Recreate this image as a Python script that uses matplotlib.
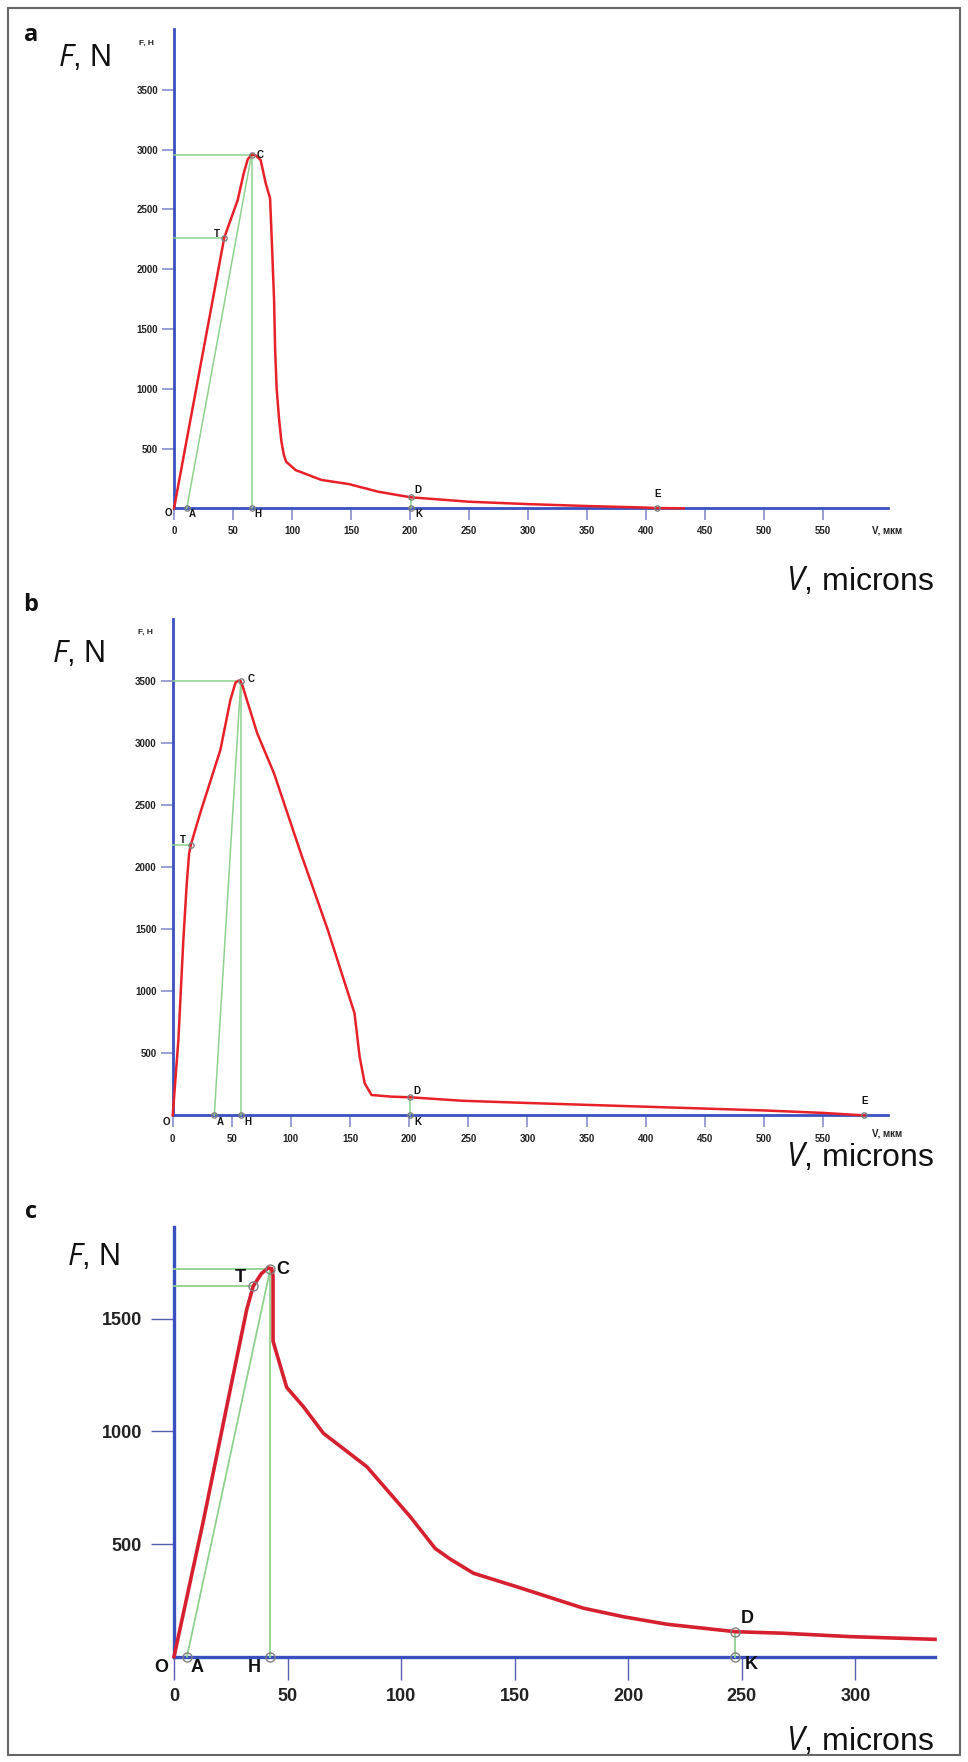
import matplotlib as mpl
mpl.use("Agg")
import matplotlib.pyplot as plt
from matplotlib.patches import Rectangle

plt.rcParams['font.family'] = ['Liberation Sans', 'DejaVu Sans']
plt.rcParams['mathtext.fontset'] = 'custom'
plt.rcParams['mathtext.rm'] = 'Open Sans'
plt.rcParams['mathtext.it'] = 'Open Sans:italic'

W, H = 968, 1762

# ---- panel a ----
a_v = [0, 42.6, 54, 59, 62.5, 65.7, 69.5, 73.4, 77.7, 81.4, 82.6, 84.8, 85.7, 87, 89, 91,
       93, 95, 103, 125, 148, 173, 200.5, 250, 300, 350, 400, 409.5, 432]
a_f = [0, 2265, 2580, 2800, 2920, 2960, 2950, 2914, 2720, 2594, 2304, 1743, 1325, 1000, 750, 560,
       450, 390, 320, 237, 203, 139, 92, 55, 35, 19, 6, 2, 0]
a_names = ['C', 'T', 'A', 'H', 'D', 'K', 'E']
a_pv = [65.7, 42.6, 10.8, 65.7, 200.5, 200.5, 409.5]
a_pf = [2960, 2265, 0, 0, 92, 0, 0]

# ---- panel b ----
b_v = [0, 4.8, 9.0, 11.9, 13.9, 15.3, 23.2, 40.3, 48.8, 53.1, 55.5, 57.3, 59, 71.5, 85.7, 108.4,
       131.2, 153.8, 158.1, 162.4, 168.2, 185.1, 200.7, 244.7, 300, 350, 400, 450, 500, 550, 585]
b_f = [0, 607, 1412, 1869, 2110, 2177, 2432, 2942, 3345, 3484, 3500, 3498, 3460, 3076, 2754, 2110,
       1493, 822, 473, 258, 164, 151, 146, 118, 100, 85, 70, 55, 40, 20, 0]
b_names = ['C', 'T', 'A', 'H', 'D', 'K', 'E']
b_pv = [57.6, 15.3, 35.2, 57.6, 200.7, 200.7, 585]
b_pf = [3500, 2180, 0, 0, 146, 0, 0]

# ---- panel c ----
c_v = [0, 13, 23.2, 32, 34.9, 38.5, 41.5, 43, 43.6, 43.6, 49.6, 57, 65.8, 84.9, 104, 115,
       121.6, 131.9, 151, 180.3, 198, 217, 247, 268.4, 297.8, 335]
c_f = [0, 606, 1109, 1540, 1645, 1700, 1725, 1722, 1690, 1400, 1195, 1109, 991, 843, 621, 480,
       433, 370, 310, 215, 177, 144, 111, 104, 89, 77]
c_names = ['C', 'T', 'A', 'H', 'D', 'K']
c_pv = [42.4, 34.9, 5.7, 42.4, 247, 247]
c_pf = [1720, 1645, 0, 0, 111, 0]

blue = '#3a50c0'
tickc = '#7d85cc'
green = '#8fd18f'

fig = plt.figure(figsize=(W / 100, H / 100), dpi=100)


def px_axes(x0, y0, x1, y1):
    return fig.add_axes([x0 / W, 1 - y1 / H, (x1 - x0) / W, (y1 - y0) / H])


def ftext(x, y, s, **kw):
    fig.text(x / W, 1 - y / H, s, **kw)


def setup(ax, xlim, ylim, xt, yt, lw, tlen, tw, tcol, fs, xpad, ypad):
    ax.set_xlim(*xlim)
    ax.set_ylim(*ylim)
    ax.patch.set_visible(False)
    for s in ['top', 'right']:
        ax.spines[s].set_visible(False)
    for s in ['left', 'bottom']:
        ax.spines[s].set_color(blue)
        ax.spines[s].set_linewidth(lw)
    ax.set_xticks(xt)
    ax.set_yticks(yt)
    ax.tick_params(axis='x', direction='out', length=tlen, width=tw, color=tcol, pad=xpad)
    ax.tick_params(axis='y', direction='out', length=tlen, width=tw, color=tcol, pad=ypad)
    for lab in ax.get_xticklabels() + ax.get_yticklabels():
        lab.set_fontsize(fs)
        lab.set_fontweight('bold')
        lab.set_color('#222222')


def draw(ax, v, f, names, pv, pf, offs, red, rlw, glw, ms, lfs):
    d = dict(zip(names, zip(pv, pf)))
    cv, cf = d['C']
    tv, tf = d['T']
    av, af = d['A']
    dv, df = d['D']
    gk = dict(color=green, lw=glw, clip_on=False, zorder=2.6)
    ax.plot([0, cv], [cf, cf], **gk)
    ax.plot([0, tv], [tf, tf], **gk)
    ax.plot([cv, cv], [0, cf], **gk)
    ax.plot([av, cv], [0, cf], **gk)
    ax.plot([dv, dv], [0, df], **gk)
    ax.plot(v, f, color=red, lw=rlw, clip_on=False, zorder=3, solid_joinstyle='round')
    ax.plot(pv, pf, 'o', ms=ms, mfc='none', mec='#808080', mew=1.0, clip_on=False, zorder=4)
    for n, x, y in zip(names, pv, pf):
        dx, dy = offs[n]
        ax.annotate(n, (x, y), xytext=(dx * 0.72, -dy * 0.72), textcoords='offset points',
                    ha='center', va='center', fontsize=lfs, fontweight='bold', color='#111111')
    dx, dy = offs['O']
    ax.annotate('O', (0, 0), xytext=(dx * 0.72, -dy * 0.72), textcoords='offset points',
                ha='center', va='center', fontsize=lfs, fontweight='bold', color='#111111',
                annotation_clip=False)


# panel a
ax = px_axes(174, 29, 888, 508.3)
setup(ax, (0, 605), (0, 4010), range(0, 551, 50), range(500, 3501, 500),
      2.0, 8.6, 1.1, tickc, 7, 4.5, 3)
draw(ax, a_v, a_f, a_names, a_pv, a_pf,
     {'C': (9, 0), 'T': (-7, -4), 'A': (6, 6), 'H': (6, 6), 'D': (7, -7), 'K': (8, 6),
      'E': (0, -14), 'O': (-6, 5)}, '#e82028', 1.8, 1.1, 3.8, 7)
ax.text(604, -185, 'V, мкм', ha='center', va='center', fontsize=7, fontweight='bold', color='#222222')

# panel b
ax = px_axes(172.7, 618.6, 888, 1115.4)
setup(ax, (0, 605), (0, 4000), range(0, 551, 50), range(500, 3501, 500),
      2.0, 8.6, 1.1, tickc, 7, 4.5, 3)
draw(ax, b_v, b_f, b_names, b_pv, b_pf,
     {'C': (10, -2), 'T': (-8, -5), 'A': (6, 7), 'H': (7, 7), 'D': (7, -6), 'K': (8, 7),
      'E': (0, -14), 'O': (-6, 7)}, '#e82028', 1.8, 1.1, 3.8, 7)
ax.text(604, -143, 'V, мкм', ha='center', va='center', fontsize=7, fontweight='bold', color='#222222')

# panel c
ax = px_axes(174, 1226.7, 935, 1656.7)
setup(ax, (0, 335), (0, 1908), range(0, 301, 50), [500, 1000, 1500],
      2.4, 16.5, 1.0, '#5560b0', 13, 6, 6.5)
draw(ax, c_v, c_f, c_names, c_pv, c_pf,
     {'C': (12, 0), 'T': (-13, -8), 'A': (10, 11), 'H': (-16, 11), 'D': (12, -13), 'K': (16, 8),
      'O': (-13, 11)}, '#d62030', 2.6, 1.3, 6.5, 13)

# panel letters and axis names
for lab, y in [('a', 35), ('b', 605), ('c', 1212)]:
    ftext(31, y, lab, ha='center', va='center', fontsize=17, fontweight='bold',
          family='Open Sans', color='#111111')
for x, y in [(58, 66), (52, 662), (67, 1265)]:
    ftext(x, y, r'$\mathit{F}$, N', ha='left', va='baseline', fontsize=22, color='#111111')
for y in [590, 1166, 1750]:
    ftext(934, y, r'$\mathit{V}$, microns', ha='right', va='baseline', fontsize=23, color='#111111')
for x, y in [(146, 43), (145, 632)]:
    ftext(x, y, 'F, H', ha='center', va='center', fontsize=6, fontweight='bold', color='#222222')

fig.patches.append(Rectangle((8 / W, 1 - 1755 / H), 952 / W, 1747 / H, transform=fig.transFigure,
                             fill=False, edgecolor='#666666', lw=1.5))

fig.savefig('out.png', dpi=100)
